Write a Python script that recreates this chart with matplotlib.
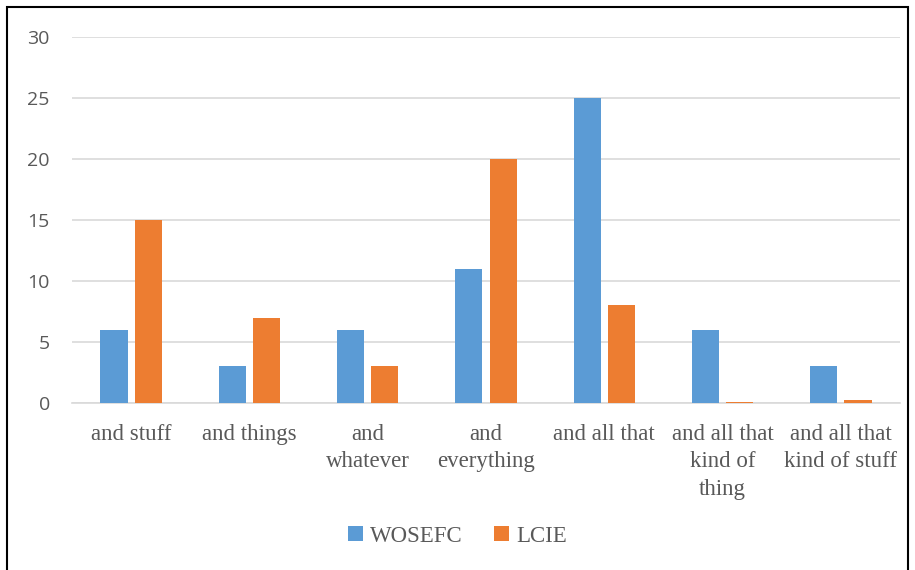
import numpy as np
import matplotlib.pyplot as plt
from matplotlib.patches import Rectangle

categories = ["and stuff", "and things", "and\nwhatever", "and\neverything",
              "and all that", "and all that\nkind of\nthing", "and all that\nkind of stuff"]
wosefc = [6, 3, 6, 11, 25, 6, 3]
lcie = [15, 7, 3, 20, 8, 0.1, 0.25]
yticks = [0, 5, 10, 15, 20, 25, 30]

blue = '#5B9BD5'
orange = '#ED7D31'
text_col = '#595959'

fig = plt.figure(figsize=(9.15, 5.7), dpi=100)
ax = fig.add_axes([72 / 915, 1 - 403 / 570, 828 / 915, 366 / 570])

x = np.arange(len(categories))
w = 0.23
ax.bar(x - 0.145, wosefc, w, color=blue, label='WOSEFC', zorder=3)
ax.bar(x + 0.145, lcie, w, color=orange, label='LCIE', zorder=3)

ax.set_xlim(-0.5, len(categories) - 0.5)
ax.set_ylim(0, 30)
ax.set_yticks(yticks)
ax.grid(axis='y', color='#D9D9D9', linewidth=1.2, zorder=0)
for s in ['top', 'right', 'left']:
    ax.spines[s].set_visible(False)
ax.spines['bottom'].set_color('#D9D9D9')
ax.spines['bottom'].set_linewidth(1.2)
ax.tick_params(length=0)
ax.tick_params(axis='y', pad=16, labelsize=14, labelcolor=text_col)
for lbl in ax.get_yticklabels():
    lbl.set_family('Open Sans')
ax.set_xticks(x)
ax.set_xticklabels(categories, family='Liberation Serif', fontsize=16.5,
                   color=text_col, linespacing=1.4, va='top')
ax.tick_params(axis='x', pad=15)

leg = fig.legend(loc='center', bbox_to_anchor=(0.5, 1 - 536 / 570), ncol=2,
                 frameon=False, prop={'family': 'Liberation Serif', 'size': 16.5},
                 handlelength=0.65, handleheight=0.65, handletextpad=0.3,
                 columnspacing=1.4)
for t in leg.get_texts():
    t.set_color(text_col)

fig.patches.append(Rectangle((7 / 915, -0.05), 901 / 915, 1.05 - 7 / 570,
                             transform=fig.transFigure, fill=False,
                             edgecolor='black', linewidth=1.5))

fig.savefig('out.png', dpi=100)
